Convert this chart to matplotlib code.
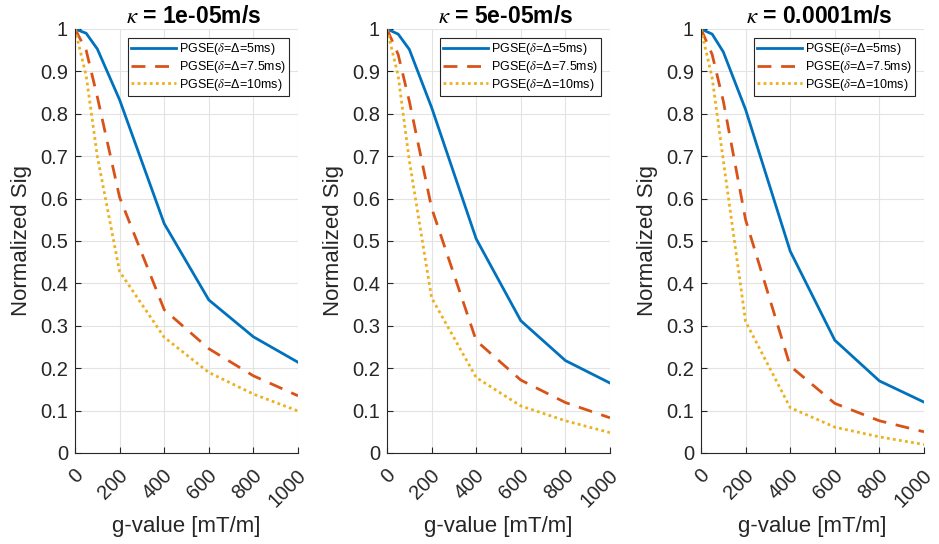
import matplotlib
matplotlib.use("Agg")
import matplotlib.pyplot as plt
import matplotlib.transforms as mtransforms
import numpy as np

plt.rcParams['font.family'] = ['Liberation Sans', 'DejaVu Sans']
plt.rcParams['mathtext.fontset'] = 'stix'

# g-values in mT/m
g = [0, 50, 100, 200, 400, 600, 800, 1000]

kappas = ['1e-05', '5e-05', '0.0001']

# normalized signal, one list per kappa panel
sig_5ms = [
    [1.0, 0.99, 0.953, 0.833, 0.541, 0.361, 0.274, 0.214],
    [1.0, 0.988, 0.952, 0.815, 0.505, 0.312, 0.218, 0.165],
    [1.0, 0.988, 0.946, 0.81, 0.476, 0.266, 0.170, 0.120],
]
sig_7_5ms = [
    [1.0, 0.95, 0.84, 0.603, 0.338, 0.246, 0.182, 0.135],
    [1.0, 0.94, 0.83, 0.578, 0.265, 0.172, 0.119, 0.083],
    [1.0, 0.94, 0.83, 0.55, 0.205, 0.117, 0.076, 0.050],
]
sig_10ms = [
    [1.0, 0.89, 0.70, 0.428, 0.273, 0.19, 0.139, 0.099],
    [1.0, 0.89, 0.69, 0.366, 0.178, 0.111, 0.076, 0.048],
    [1.0, 0.885, 0.69, 0.31, 0.107, 0.061, 0.038, 0.020],
]

labels = ['PGSE($\\delta$=Δ=5ms)', 'PGSE($\\delta$=Δ=7.5ms)', 'PGSE($\\delta$=Δ=10ms)']
colors = ['#0072BD', '#D95319', '#EDB120']
styles = ['-', (0, (5, 3.5)), (0, (1, 1.2))]

fig = plt.figure(figsize=(9.39, 5.44), dpi=100)
lefts = [75, 387, 701]
gray = '#262626'
shift = mtransforms.ScaledTranslation(12 / 100, 0, fig.dpi_scale_trans)

for i in range(3):
    ax = fig.add_axes([lefts[i] / 939, 1 - 453 / 544, 223 / 939, 424 / 544])
    for s, lab, c, ls in zip([sig_5ms[i], sig_7_5ms[i], sig_10ms[i]], labels, colors, styles):
        ax.plot(g, s, color=c, linestyle=ls, linewidth=2.0, label=lab)
    ax.set_xlim(0, 1000)
    ax.set_ylim(0, 1)
    ax.set_xticks(np.arange(0, 1001, 200))
    ax.set_yticks(np.arange(0, 1.01, 0.1))
    ax.set_yticklabels(['0'] + ['%.1f' % v for v in np.arange(0.1, 0.95, 0.1)] + ['1'])
    ax.grid(True, color='#e3e3e3', linewidth=0.8)
    ax.set_axisbelow(True)
    for sp in ['top', 'right']:
        ax.spines[sp].set_visible(False)
    for sp in ['left', 'bottom']:
        ax.spines[sp].set_color(gray)
        ax.spines[sp].set_linewidth(0.8)
    ax.tick_params(direction='in', length=4, colors=gray, labelsize=14.5, pad=5)
    ax.tick_params(axis='x', pad=9)
    for t in ax.get_xticklabels():
        t.set_rotation(45)
        t.set_ha('right')
        t.set_va('top')
        t.set_transform(t.get_transform() + shift)
    ax.set_xlabel('g-value [mT/m]', fontsize=16, color=gray)
    ax.xaxis.set_label_coords(0.5, -0.148)
    ax.set_ylabel('Normalized Sig', fontsize=16, color=gray, labelpad=6)
    ax.set_title('$\\kappa$ = ' + kappas[i] + 'm/s', fontsize=16.5, fontweight='bold',
                 pad=4, x=0.53)
    leg = ax.legend(loc='upper right', fontsize=9, handlelength=3.6, borderaxespad=0,
                    fancybox=False, framealpha=1, edgecolor=gray, labelspacing=0.15,
                    handletextpad=0.25, borderpad=0.25, bbox_to_anchor=(0.96, 0.979))
    leg.get_frame().set_linewidth(0.8)

fig.savefig('out.png', dpi=100)
